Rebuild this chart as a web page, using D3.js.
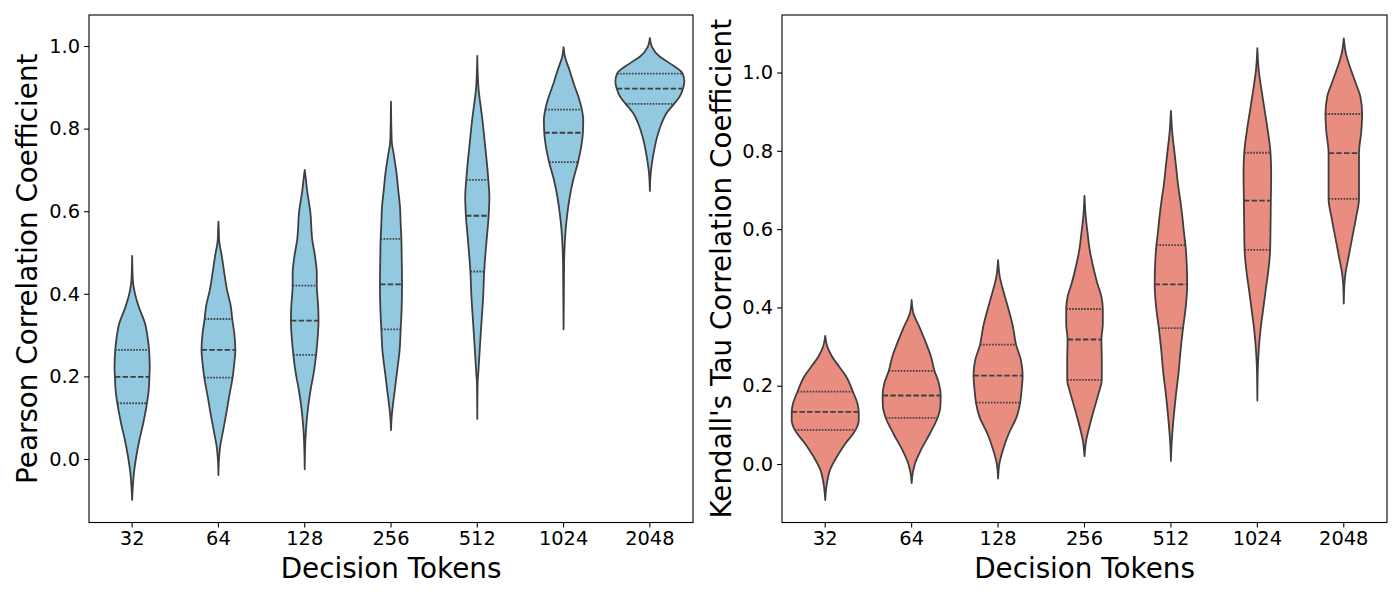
<!DOCTYPE html>
<html>
<head>
<meta charset="utf-8">
<script src="https://cdn.jsdelivr.net/npm/d3@7"></script>
<style>
  body { margin: 0; background: #fff; }
  svg text { font-family: "DejaVu Sans", sans-serif; fill: #000; }
</style>
</head>
<body>
<script>
// categories shared by both panels
const tokens = ["32", "64", "128", "256", "512", "1024", "2048"];
const yTicks = [0.0, 0.2, 0.4, 0.6, 0.8, 1.0];

// violin outlines: [value, relative density]
const pearsonProfiles = [
    [[0.492,0],[0.433,0.02],[0.409,0.06],[0.369,0.19],[0.329,0.37],[0.288,0.46],[0.264,0.49],[0.224,0.51],[0.199,0.50],[0.167,0.48],[0.135,0.43],[0.086,0.32],[0.046,0.21],[0.006,0.12],[-0.035,0.05],[-0.067,0.02],[-0.099,0]],
    [[0.575,0],[0.555,0.01],[0.530,0.02],[0.490,0.10],[0.450,0.17],[0.409,0.25],[0.369,0.36],[0.339,0.40],[0.304,0.46],[0.264,0.49],[0.232,0.46],[0.197,0.41],[0.151,0.31],[0.102,0.21],[0.062,0.12],[0.030,0.05],[-0.002,0.015],[-0.039,0]],
    [[0.700,0],[0.680,0.03],[0.650,0.07],[0.600,0.16],[0.530,0.22],[0.490,0.30],[0.450,0.35],[0.420,0.35],[0.369,0.39],[0.335,0.40],[0.288,0.37],[0.252,0.33],[0.208,0.26],[0.167,0.17],[0.127,0.10],[0.086,0.05],[0.046,0.02],[-0.025,0]],
    [[0.865,0],[0.772,0.02],[0.732,0.09],[0.692,0.16],[0.651,0.21],[0.611,0.26],[0.571,0.28],[0.533,0.30],[0.490,0.31],[0.423,0.32],[0.369,0.31],[0.314,0.28],[0.264,0.25],[0.208,0.17],[0.167,0.11],[0.127,0.05],[0.102,0.02],[0.070,0]],
    [[0.976,0],[0.930,0.015],[0.893,0.04],[0.853,0.10],[0.813,0.16],[0.772,0.21],[0.732,0.26],[0.676,0.32],[0.635,0.35],[0.589,0.33],[0.530,0.27],[0.454,0.20],[0.393,0.17],[0.329,0.12],[0.264,0.07],[0.215,0.035],[0.183,0.01],[0.097,0]],
    [[0.997,0],[0.974,0.04],[0.942,0.17],[0.910,0.29],[0.877,0.43],[0.846,0.53],[0.821,0.57],[0.790,0.56],[0.756,0.51],[0.719,0.42],[0.676,0.28],[0.635,0.18],[0.595,0.11],[0.555,0.06],[0.514,0.03],[0.474,0.015],[0.393,0.008],[0.314,0]],
    [[1.019,0],[0.998,0.06],[0.974,0.29],[0.958,0.58],[0.933,0.95],[0.914,1.0],[0.897,0.96],[0.877,0.86],[0.860,0.70],[0.837,0.48],[0.813,0.34],[0.780,0.21],[0.748,0.125],[0.716,0.06],[0.692,0.025],[0.649,0]]
];
// [q1, median, q3]
const pearsonQuartiles = [
    [0.135,0.199,0.264],
    [0.197,0.264,0.339],
    [0.252,0.335,0.420],
    [0.314,0.423,0.533],
    [0.454,0.589,0.676],
    [0.719,0.790,0.846],
    [0.860,0.897,0.933]
];

const kendallProfiles = [
    [[0.327,0],[0.300,0.06],[0.274,0.20],[0.249,0.40],[0.223,0.61],[0.185,0.80],[0.155,0.93],[0.133,0.97],[0.112,0.97],[0.087,0.88],[0.053,0.59],[0.019,0.34],[-0.015,0.14],[-0.049,0.05],[-0.092,0]],
    [[0.419,0],[0.385,0.05],[0.351,0.22],[0.308,0.42],[0.274,0.56],[0.238,0.66],[0.206,0.79],[0.175,0.84],[0.146,0.83],[0.118,0.75],[0.078,0.53],[0.036,0.27],[0.002,0.10],[-0.024,0.03],[-0.049,0]],
    [[0.521,0],[0.478,0.05],[0.436,0.17],[0.393,0.31],[0.351,0.43],[0.305,0.52],[0.266,0.66],[0.226,0.71],[0.189,0.68],[0.157,0.64],[0.121,0.54],[0.078,0.31],[0.036,0.14],[0.002,0.04],[-0.037,0]],
    [[0.685,0],[0.632,0.035],[0.589,0.09],[0.547,0.15],[0.504,0.25],[0.462,0.37],[0.427,0.49],[0.396,0.53],[0.359,0.53],[0.318,0.49],[0.266,0.50],[0.215,0.50],[0.181,0.41],[0.138,0.27],[0.095,0.14],[0.061,0.05],[0.020,0]],
    [[0.902,0],[0.845,0.04],[0.802,0.095],[0.759,0.15],[0.717,0.20],[0.674,0.27],[0.632,0.33],[0.589,0.38],[0.559,0.42],[0.504,0.46],[0.459,0.47],[0.402,0.43],[0.347,0.35],[0.291,0.28],[0.232,0.22],[0.181,0.15],[0.130,0.09],[0.078,0.04],[0.044,0.015],[0.008,0]],
    [[1.062,0],[1.006,0.04],[0.955,0.12],[0.904,0.21],[0.853,0.30],[0.795,0.38],[0.742,0.40],[0.673,0.39],[0.598,0.38],[0.547,0.37],[0.496,0.32],[0.444,0.24],[0.393,0.165],[0.342,0.09],[0.291,0.04],[0.249,0.015],[0.162,0]],
    [[1.087,0],[1.049,0.06],[1.006,0.21],[0.972,0.35],[0.938,0.48],[0.894,0.53],[0.853,0.51],[0.794,0.44],[0.734,0.44],[0.677,0.44],[0.632,0.36],[0.581,0.25],[0.530,0.14],[0.487,0.05],[0.462,0.02],[0.410,0]]
];
const kendallQuartiles = [
    [0.087,0.133,0.185],
    [0.118,0.175,0.238],
    [0.157,0.226,0.305],
    [0.215,0.318,0.396],
    [0.347,0.459,0.559],
    [0.547,0.673,0.795],
    [0.677,0.794,0.894]
];

const W = 1400, H = 600;
const edge = "#3f3f3f";

const svg = d3.select("body").append("svg")
    .attr("width", W)
    .attr("height", H);

// linear lookup of the outline width at a given value
const densityAt = (profile, v) => {
    for (let i = 0; i < profile.length - 1; i++) {
        const a = profile[i], b = profile[i + 1];
        if (v <= a[0] && v >= b[0]) {
            const t = (a[0] - v) / (a[0] - b[0]);
            return a[1] + t * (b[1] - a[1]);
        }
    }
    return 0;
};

const drawPanel = (cfg) => {
    const g = svg.append("g");

    const x = d3.scaleBand()
        .domain(tokens)
        .range([cfg.left, cfg.right])
        .paddingInner(0)
        .paddingOuter(0);
    const y = d3.scaleLinear()
        .domain(cfg.yDomain)
        .range([cfg.bottom, cfg.top]);
    const w = d3.scaleLinear()
        .domain([0, 1])
        .range([0, x.bandwidth() * 0.4]);

    tokens.forEach((t, i) => {
        const cx = x(t) + x.bandwidth() / 2;
        const profile = cfg.profiles[i];
        const area = d3.area()
            .y(d => y(d[0]))
            .x0(d => cx - w(d[1]))
            .x1(d => cx + w(d[1]))
            .curve(d3.curveMonotoneY);

        g.append("path")
            .attr("d", area(profile))
            .attr("fill", cfg.color)
            .attr("stroke", edge)
            .attr("stroke-width", 1.8)
            .attr("stroke-linejoin", "round");

        cfg.quartiles[i].forEach((q, k) => {
            const hw = w(densityAt(profile, q));
            g.append("line")
                .attr("x1", cx - hw)
                .attr("x2", cx + hw)
                .attr("y1", y(q))
                .attr("y2", y(q))
                .attr("stroke", edge)
                .attr("stroke-width", 1.8)
                .attr("stroke-dasharray", k === 1 ? "5.5,2.2" : "1.6,1.4");
        });
    });

    // axes
    const xAxis = d3.axisBottom(x).tickSize(4.9).tickPadding(4);
    const yAxis = d3.axisLeft(y).tickValues(yTicks).tickFormat(d3.format(".1f")).tickSize(4.9).tickPadding(4);

    const gx = g.append("g")
        .attr("transform", "translate(0," + cfg.bottom + ")")
        .call(xAxis);
    const gy = g.append("g")
        .attr("transform", "translate(" + cfg.left + ",0)")
        .call(yAxis);
    [gx, gy].forEach(a => {
        a.select(".domain").remove();
        a.selectAll(".tick line").attr("stroke", "#000").attr("stroke-width", 1.1);
        a.selectAll(".tick text")
            .style("font-family", "DejaVu Sans")
            .style("font-size", "19.4px")
            .attr("fill", "#000");
    });
    gx.selectAll(".tick text").attr("dy", "0.71em");

    // frame
    g.append("rect")
        .attr("x", cfg.left)
        .attr("y", cfg.top)
        .attr("width", cfg.right - cfg.left)
        .attr("height", cfg.bottom - cfg.top)
        .attr("fill", "none")
        .attr("stroke", "#000")
        .attr("stroke-width", 1.1);

    g.append("text")
        .attr("x", (cfg.left + cfg.right) / 2)
        .attr("y", 578)
        .attr("text-anchor", "middle")
        .style("font-size", "27.8px")
        .text("Decision Tokens");

    g.append("text")
        .attr("transform", "translate(" + cfg.labelX + "," + ((cfg.top + cfg.bottom) / 2) + ") rotate(-90)")
        .attr("text-anchor", "middle")
        .style("font-size", "27.8px")
        .text(cfg.yLabel);
};

drawPanel({
    left: 89, right: 693, top: 15, bottom: 522.5,
    yDomain: [-0.1538, 1.0751],
    profiles: pearsonProfiles,
    quartiles: pearsonQuartiles,
    color: "#92c9e0",
    yLabel: "Pearson Correlation Coefficient",
    labelX: 37
});

drawPanel({
    left: 782, right: 1387, top: 15, bottom: 522.5,
    yDomain: [-0.1494, 1.1469],
    profiles: kendallProfiles,
    quartiles: kendallQuartiles,
    color: "#e98d81",
    yLabel: "Kendall's Tau Correlation Coefficient",
    labelX: 731
});
</script>
</body>
</html>
